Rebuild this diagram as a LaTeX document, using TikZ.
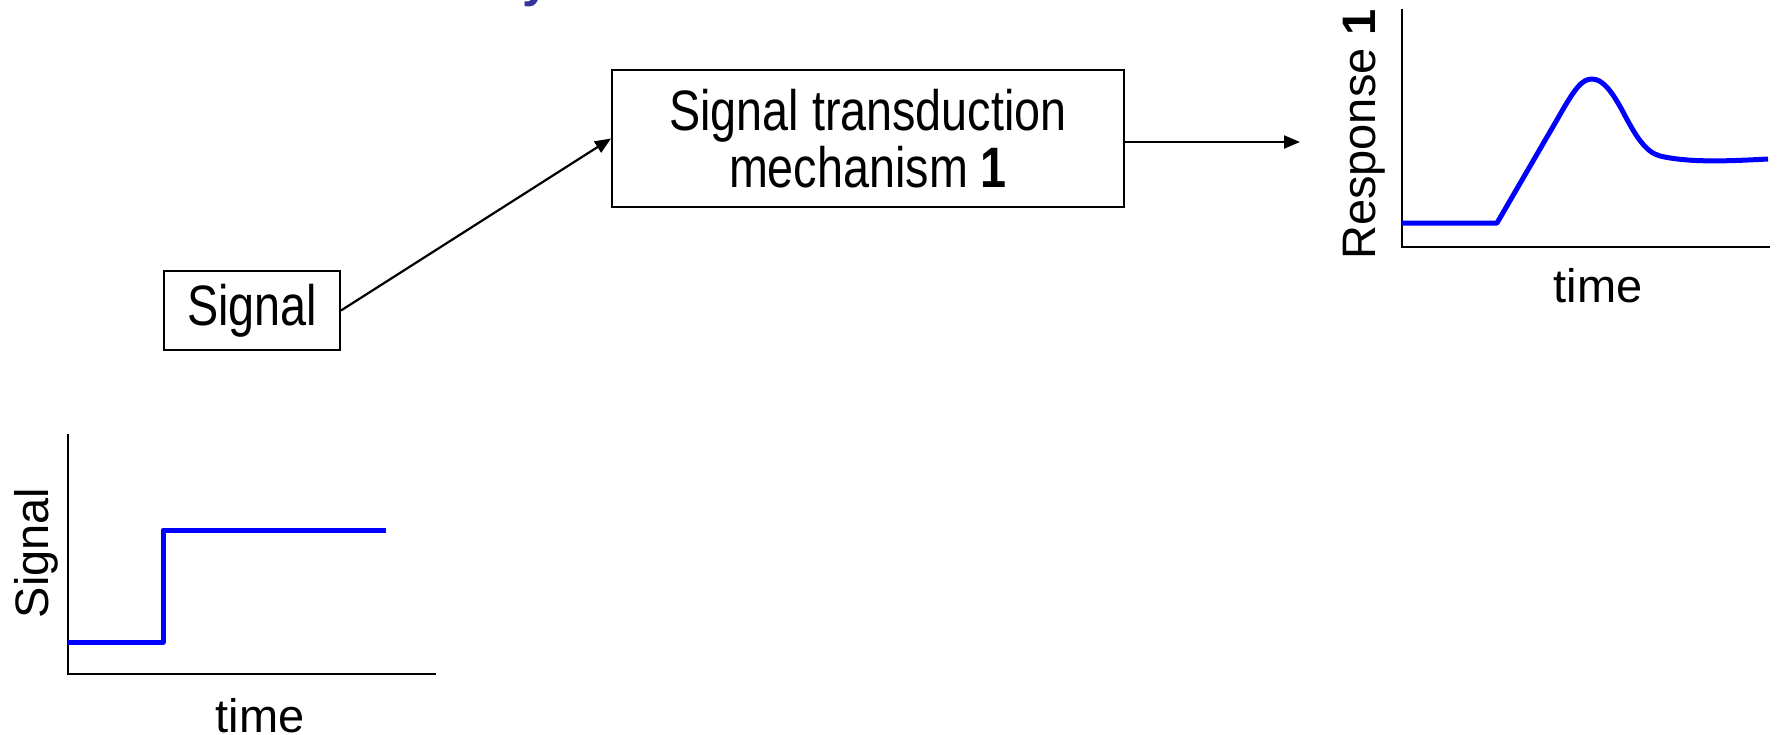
\documentclass[tikz,border=0pt]{standalone}
\usepackage{fontspec}
\usepackage{graphicx}
\setmainfont{Liberation Sans}
\usetikzlibrary{arrows.meta}
\definecolor{titleblue}{RGB}{51,51,153}
\definecolor{curveblue}{RGB}{0,0,255}
% horizontally narrowed text for the boxes
\newcommand\hsq[1]{\scalebox{0.82}[1]{#1}}
\begin{document}
\begin{tikzpicture}[x=1pt,y=-1pt,
  tbox/.style={draw, line width=2pt, inner sep=0pt, align=center,
    font=\fontsize{57}{56.7}\selectfont},
  conn/.style={line width=2.2pt, -{Triangle[length=16pt,width=13pt]}},
  lab/.style={inner sep=0pt, font=\fontsize{47}{56}\selectfont},
  axis/.style={line width=2.4pt},
  curve/.style={line width=5pt, curveblue, line join=round}]
\useasboundingbox (0,0) rectangle (1777,734);

% heading, mostly above the top edge
\begin{scope}
  \clip (0,0) rectangle (1777,734);
  \node[inner sep=0pt, anchor=base west, text=titleblue,
    font=\fontsize{50}{60}\selectfont\bfseries] (ttl) at (522,-3.5) {y};
\end{scope}

% blocks
\node[tbox, minimum width=176pt, minimum height=79pt] (sig) at (252,310.5) {\hsq{Signal}};
\node[tbox, minimum width=512pt, minimum height=137pt] (mech) at (868,138.5)
  {\hsq{Signal transduction}\\\hsq{mechanism \textbf{1}}};

% connectors
\coordinate (resp) at (1300,142);
\draw[conn] (sig.east) -- (mech.west);
\draw[conn] (mech.east |- resp) -- (resp);

% response plot
\draw[axis] (1402,9) -- (1402,247) -- (1770,247);
\draw[curve] (1402,223) -- (1497,223) -- (1558,118)
  .. controls (1575,88) and (1582,79) .. (1592,79)
  .. controls (1603,79) and (1612,92) .. (1622,110)
  .. controls (1635,135) and (1645,152) .. (1660,156)
  .. controls (1690,163) and (1730,161) .. (1768,159);
\node[lab, rotate=90, anchor=base] (ylabR) at (1375,134.5) {Response \textbf{1}};
\node[lab, anchor=base] (xlabR) at (1598,302) {time};

% signal plot
\draw[axis] (68,434) -- (68,674) -- (436,674);
\draw[curve] (68,642) -- (163,642) -- (163,530) -- (386,530);
\node[lab, rotate=90, anchor=base] (ylabS) at (48,553) {Signal};
\node[lab, anchor=base] (xlabS) at (260,732) {time};
\end{tikzpicture}
\end{document}
